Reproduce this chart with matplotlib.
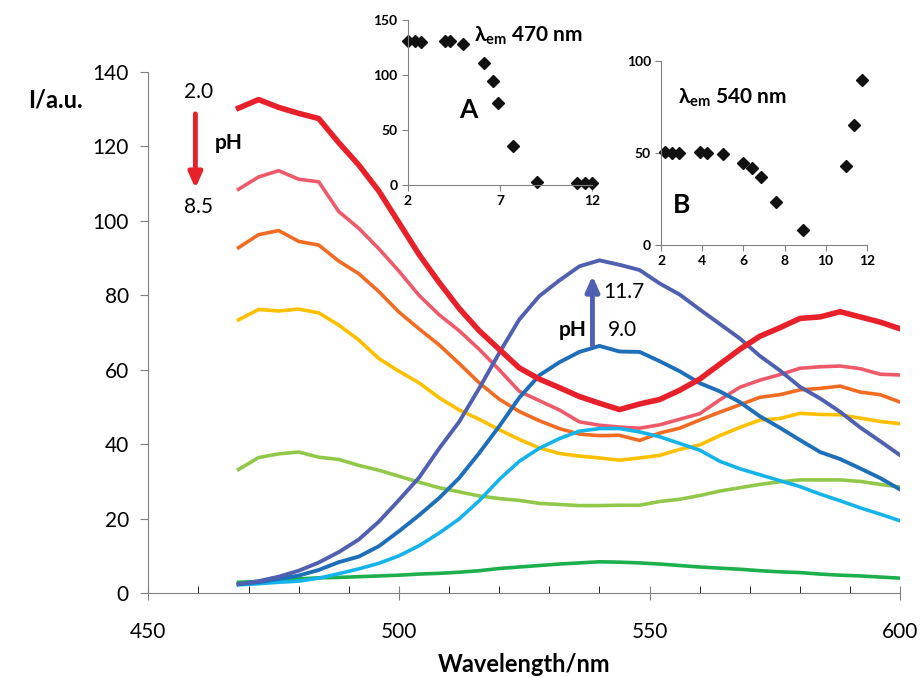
import numpy as np
import matplotlib.pyplot as plt

plt.rcParams['font.family'] = ['Lato', 'DejaVu Sans']
plt.rcParams['mathtext.fontset'] = 'custom'
plt.rcParams['mathtext.bf'] = 'Lato:bold'
plt.rcParams['mathtext.rm'] = 'Lato'

# emission spectra, every 4 nm
wl = np.arange(468, 601, 4)

ph_2_0 = [130.3, 132.6, 130.5, 128.9, 127.5, 121.0, 115.0, 108.0, 99.5, 91.0, 83.5, 76.5,
          70.5, 65.5, 60.5, 57.5, 55.2, 52.8, 51.0, 49.3, 50.8, 52.0, 54.5, 57.5, 61.5, 65.5,
          69.0, 71.3, 73.8, 74.2, 75.6, 74.2, 72.8, 71.0]
ph_b = [108.5, 111.8, 113.5, 111.2, 110.5, 102.5, 98.0, 92.5, 86.5, 80.0, 74.8, 70.5,
        65.5, 60.0, 54.2, 51.7, 49.2, 46.0, 45.1, 44.6, 44.3, 45.2, 46.7, 48.2, 51.9, 55.3,
        57.2, 58.7, 60.4, 60.8, 61.0, 60.3, 58.8, 58.6]
ph_c = [92.8, 96.3, 97.4, 94.5, 93.5, 89.2, 85.8, 81.0, 75.5, 71.0, 66.7, 61.7,
        56.5, 52.1, 48.8, 46.3, 44.2, 42.7, 42.3, 42.4, 41.0, 43.0, 44.3, 46.5, 48.6, 50.6,
        52.6, 53.3, 54.6, 55.0, 55.6, 54.0, 53.3, 51.3]
ph_d = [73.4, 76.2, 75.8, 76.3, 75.3, 72.0, 68.0, 63.0, 59.6, 56.5, 52.5, 49.2,
        46.7, 43.9, 41.3, 39.0, 37.5, 36.8, 36.3, 35.7, 36.3, 37.0, 38.6, 39.8, 42.3, 44.5,
        46.5, 46.9, 48.3, 48.0, 47.9, 47.0, 46.1, 45.5]
ph_e = [33.2, 36.4, 37.4, 37.9, 36.5, 35.9, 34.3, 33.0, 31.4, 29.8, 28.3, 27.2,
        26.1, 25.4, 24.9, 24.1, 23.8, 23.5, 23.5, 23.6, 23.6, 24.6, 25.2, 26.2, 27.4, 28.3,
        29.2, 29.9, 30.4, 30.4, 30.4, 30.0, 29.2, 28.5]
ph_8_5 = [2.9, 3.1, 3.4, 3.8, 4.1, 4.2, 4.4, 4.6, 4.8, 5.1, 5.3, 5.6,
          6.0, 6.6, 7.0, 7.4, 7.8, 8.1, 8.4, 8.3, 8.1, 7.8, 7.4, 7.0, 6.7, 6.4,
          6.0, 5.7, 5.5, 5.1, 4.8, 4.6, 4.3, 4.0]
ph_9_0 = [2.2, 2.5, 2.9, 3.2, 4.0, 5.2, 6.5, 8.0, 10.0, 12.7, 16.1, 19.9,
          24.8, 30.5, 35.4, 38.9, 41.5, 43.5, 44.2, 44.2, 43.3, 42.0, 40.2, 38.4, 35.4, 33.4,
          31.8, 30.2, 28.6, 26.6, 24.8, 22.9, 21.2, 19.4]
ph_g = [2.4, 2.9, 3.8, 4.7, 6.2, 8.3, 9.8, 12.6, 16.6, 20.9, 25.5, 30.9,
        37.6, 44.8, 52.5, 58.5, 62.0, 64.8, 66.4, 64.9, 64.8, 62.3, 59.6, 56.4, 54.2, 51.3,
        47.5, 44.4, 41.1, 37.9, 36.0, 33.5, 30.9, 27.8]
ph_11_7 = [2.4, 3.2, 4.4, 6.0, 8.2, 11.0, 14.4, 19.2, 25.0, 31.0, 38.8, 46.0,
           55.0, 64.5, 73.5, 79.8, 84.0, 87.8, 89.4, 88.2, 86.8, 83.2, 80.2, 76.2, 72.3, 68.4,
           63.7, 59.8, 55.4, 52.3, 48.7, 44.5, 40.8, 37.0]

# insets: intensity vs pH
ph_a = [2.0, 2.4, 2.7, 4.0, 4.3, 5.0, 6.1, 6.6, 6.9, 7.7, 9.0, 11.2, 11.6, 12.0]
int_470 = [131, 131, 130, 131, 131, 128, 111, 94.5, 74, 35.5, 2.4, 1.2, 1.2, 1.2]
ph_b_pts = [2.2, 2.5, 2.85, 3.9, 4.25, 5.0, 6.0, 6.4, 6.85, 7.6, 8.9, 11.0, 11.4, 11.75]
int_540 = [50.7, 50.2, 50.2, 50.7, 50.2, 49.5, 44.7, 41.7, 36.8, 23.2, 8.2, 42.9, 65.2, 89.7]

fig = plt.figure(figsize=(9.21, 6.77), dpi=100)
ax = fig.add_axes([0.161, 0.124, 0.8165, 0.7696])

ax.plot(wl, ph_8_5, color='#1DAF4B', lw=2.6)
ax.plot(wl, ph_e, color='#92C84A', lw=2.6)
ax.plot(wl, ph_d, color='#FFC000', lw=2.6)
ax.plot(wl, ph_c, color='#F26B22', lw=2.6)
ax.plot(wl, ph_b, color='#EF5A6A', lw=2.6)
ax.plot(wl, ph_9_0, color='#14B4EA', lw=2.6)
ax.plot(wl, ph_g, color='#1D6FBA', lw=2.8)
ax.plot(wl, ph_11_7, color='#5060B0', lw=2.8)
ax.plot(wl, ph_2_0, color='#E8202A', lw=4.0)

ax.set_xlim(450, 600)
ax.set_ylim(0, 140)
ax.set_xticks([450, 500, 550, 600])
ax.set_xticks(np.arange(450, 601, 10), minor=True)
ax.set_yticks(np.arange(0, 141, 20))
ax.tick_params(axis='both', labelsize=15, colors='#808080', labelcolor='black')
ax.tick_params(axis='x', which='major', direction='inout', length=10, pad=16)
ax.tick_params(axis='x', which='minor', direction='in', length=5)
ax.tick_params(axis='y', direction='out', length=6, pad=8)
for s in ['top', 'right']:
    ax.spines[s].set_visible(False)
for s in ['left', 'bottom']:
    ax.spines[s].set_color('#808080')
ax.set_xlabel('Wavelength/nm', fontsize=17, fontweight='bold', labelpad=8)
fig.text(0.06, 0.852, 'I/a.u.', fontsize=17, fontweight='bold', ha='center', va='center')

# pH arrows and labels
ax.text(460, 134.6, '2.0', fontsize=15, ha='center', va='center')
ax.text(460, 103.7, '8.5', fontsize=15, ha='center', va='center')
ax.text(466, 121, 'pH', fontsize=15, fontweight='bold', ha='center', va='center')
ax.annotate('', xy=(459.4, 108.0), xytext=(459.4, 129.5),
            arrowprops=dict(arrowstyle='-|>,head_width=0.4,head_length=0.9', lw=3.5, color='#E8202A'))
ax.text(540.8, 80.9, '11.7', fontsize=15, ha='left', va='center')
ax.text(541.6, 70.7, '9.0', fontsize=15, ha='left', va='center')
ax.text(534.6, 70.7, 'pH', fontsize=15, fontweight='bold', ha='center', va='center')
ax.annotate('', xy=(538.6, 86.0), xytext=(538.6, 65.8),
            arrowprops=dict(arrowstyle='-|>,head_width=0.4,head_length=0.9', lw=3.5, color='#5060B0'))

# inset A
axa = fig.add_axes([0.443, 0.727, 0.200, 0.244])
axa.patch.set_alpha(0)
axa.plot(ph_a, int_470, 'D', color='#111111', ms=6, clip_on=False)
axa.set_xlim(2, 12)
axa.set_ylim(0, 150)
axa.set_xticks([2, 7, 12])
axa.set_yticks([0, 50, 100, 150])
axa.tick_params(labelsize=10, colors='#808080', labelcolor='black', direction='out', length=4)
for lab in axa.get_xticklabels() + axa.get_yticklabels():
    lab.set_fontweight('bold')
for s in ['top', 'right']:
    axa.spines[s].set_visible(False)
for s in ['left', 'bottom']:
    axa.spines[s].set_color('#808080')
axa.text(0.33, 0.45, 'A', transform=axa.transAxes, fontsize=19, fontweight='bold', ha='center', va='center')
axa.text(0.36, 0.9, r'λ$_{\mathbf{em}}$ 470 nm', transform=axa.transAxes, fontsize=15,
         fontweight='bold', ha='left', va='center')

# inset B
axb = fig.add_axes([0.718, 0.638, 0.223, 0.272])
axb.patch.set_alpha(0)
axb.plot(ph_b_pts, int_540, 'D', color='#111111', ms=6, clip_on=False)
axb.set_xlim(2, 12)
axb.set_ylim(0, 100)
axb.set_xticks(np.arange(2, 13, 2))
axb.set_yticks([0, 50, 100])
axb.tick_params(labelsize=10, colors='#808080', labelcolor='black', direction='out', length=4)
for lab in axb.get_xticklabels() + axb.get_yticklabels():
    lab.set_fontweight('bold')
for s in ['top', 'right']:
    axb.spines[s].set_visible(False)
for s in ['left', 'bottom']:
    axb.spines[s].set_color('#808080')
axb.text(0.1, 0.22, 'B', transform=axb.transAxes, fontsize=19, fontweight='bold', ha='center', va='center')
axb.text(0.08, 0.8, r'λ$_{\mathbf{em}}$ 540 nm', transform=axb.transAxes, fontsize=15,
         fontweight='bold', ha='left', va='center')

plt.savefig('out.png', dpi=100)
